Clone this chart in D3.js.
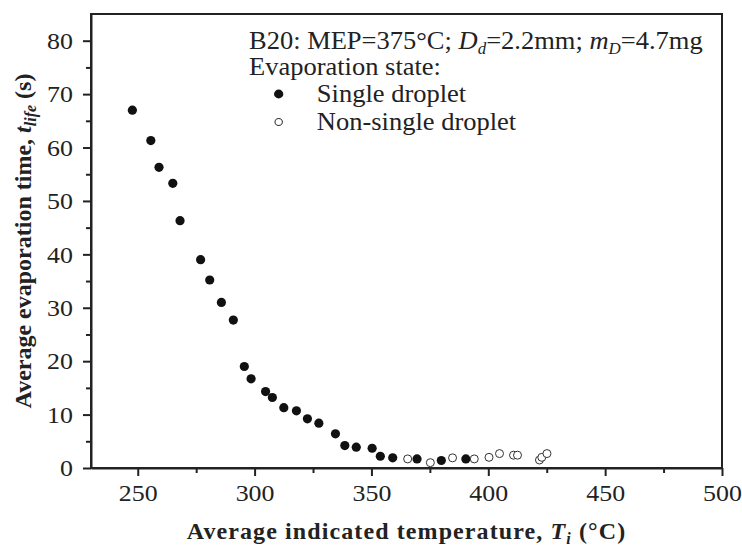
<!DOCTYPE html>
<html>
<head>
<meta charset="utf-8">
<script src="https://cdn.jsdelivr.net/npm/d3@7"></script>
<style>
  body { margin: 0; background: #fff; }
  text { font-family: "Liberation Serif", "Times New Roman", serif; fill: #222; }
</style>
</head>
<body>
<script>
// single droplet evaporation (filled markers)
var singleT = [247.7, 255.6, 259.1, 265.0, 268.1, 276.9, 280.8, 285.8, 290.9, 295.6, 298.5,
  304.7, 307.6, 312.5, 317.9, 322.6, 327.5, 334.6, 338.6, 343.5, 350.3, 353.8, 359.1, 369.5, 379.9, 390.4];
var singleLife = [67.0, 61.3, 56.3, 53.3, 46.3, 39.0, 35.2, 31.0, 27.7, 19.0, 16.7,
  14.3, 13.2, 11.3, 10.7, 9.2, 8.4, 6.4, 4.2, 3.9, 3.7, 2.2, 1.9, 1.7, 1.4, 1.7];
// non-single droplet (open markers)
var multiT = [365.5, 375.2, 384.7, 394.0, 400.3, 404.8, 410.8, 412.5, 421.9, 422.9, 425.1];
var multiLife = [1.7, 1.0, 1.9, 1.7, 2.0, 2.7, 2.4, 2.4, 1.5, 2.0, 2.7];

var xTicks = [250, 300, 350, 400, 450, 500];
var yTicks = [0, 10, 20, 30, 40, 50, 60, 70, 80];
var legendLabels = ["Single droplet", "Non-single droplet"];

var width = 742, height = 546;
var margin = {top: 14, right: 20, bottom: 78, left: 91};
var stretch = 1.08; // the source figure's lettering is a bit wide

var svg = d3.select("body").append("svg")
    .attr("width", width)
    .attr("height", height);

var x = d3.scaleLinear().domain([230, 500]).range([margin.left, width - margin.right]);
var y = d3.scaleLinear().domain([0, 85]).range([height - margin.bottom, margin.top]);

// frame
svg.append("rect")
    .attr("x", x(230)).attr("y", y(85))
    .attr("width", x(500) - x(230)).attr("height", y(0) - y(85))
    .attr("fill", "none").attr("stroke", "#222").attr("stroke-width", 2);

var xMinor = d3.range(275, 500, 50);
var yMinor = d3.range(5, 85, 10);

svg.append("g").attr("transform", `translate(0,${y(0)})`)
    .call(d3.axisBottom(x).tickValues(xTicks).tickSize(8).tickPadding(8).tickSizeOuter(0));
svg.append("g").attr("transform", `translate(0,${y(0)})`)
    .call(d3.axisBottom(x).tickValues(xMinor).tickSize(5).tickFormat("").tickSizeOuter(0))
    .call(g => g.select(".domain").remove());

svg.append("g").attr("transform", `translate(${x(230)},0)`)
    .call(d3.axisLeft(y).tickValues(yTicks).tickSize(8).tickPadding(10).tickSizeOuter(0));
svg.append("g").attr("transform", `translate(${x(230)},0)`)
    .call(d3.axisLeft(y).tickValues(yMinor).tickSize(5).tickFormat("").tickSizeOuter(0))
    .call(g => g.select(".domain").remove());

svg.selectAll(".tick line, .domain").attr("stroke", "#222").attr("stroke-width", 2);
svg.selectAll(".tick text")
    .attr("font-size", 24).attr("fill", "#333")
    .attr("font-family", "Liberation Serif")
    .attr("transform", function() {
      var tx = +d3.select(this).attr("x") || 0;
      return `translate(${tx},0) scale(${stretch},1) translate(${-tx},0)`;
    });

// points
svg.append("g").selectAll("circle")
  .data(singleT.map((t, i) => [t, singleLife[i]]))
  .join("circle")
    .attr("cx", d => x(d[0]))
    .attr("cy", d => y(d[1]))
    .attr("r", 4.6)
    .attr("fill", "#111");

svg.append("g").selectAll("circle")
  .data(multiT.map((t, i) => [t, multiLife[i]]))
  .join("circle")
    .attr("cx", d => x(d[0]))
    .attr("cy", d => y(d[1]))
    .attr("r", 4)
    .attr("fill", "#fff")
    .attr("stroke", "#333")
    .attr("stroke-width", 1);

// legend / annotation
var lx = 249;
var leg = svg.append("g")
    .attr("font-size", 25)
    .attr("transform", `translate(${lx},0) scale(1.06,1)`);
var t1 = leg.append("text").attr("x", 0).attr("y", 49);
t1.append("tspan").text("B20: MEP=375°C; ");
t1.append("tspan").attr("font-style", "italic").text("D");
t1.append("tspan").attr("font-style", "italic").attr("font-size", 16).attr("dy", 5).text("d");
t1.append("tspan").attr("dy", -5).text("=2.2mm; ");
t1.append("tspan").attr("font-style", "italic").text("m");
t1.append("tspan").attr("font-style", "italic").attr("font-size", 16).attr("dy", 5).text("D");
t1.append("tspan").attr("dy", -5).text("=4.7mg");

leg.append("text").attr("x", 0).attr("y", 75).text("Evaporation state:");

var items = leg.selectAll(".item")
  .data(legendLabels)
  .join("g")
    .attr("transform", (d, i) => `translate(0,${102 + i * 28})`);
items.append("circle")
    .attr("cx", 28).attr("cy", -8)
    .attr("r", (d, i) => i === 0 ? 4.4 : 3.5)
    .attr("fill", (d, i) => i === 0 ? "#111" : "#fff")
    .attr("stroke", (d, i) => i === 0 ? "none" : "#333");
items.append("text")
    .attr("x", 64)
    .text(d => d);

// axis titles
var xt = svg.append("text")
    .attr("x", (x(230) + x(500)) / 2).attr("y", 539)
    .attr("text-anchor", "middle")
    .attr("font-size", 24).attr("font-weight", "bold")
    .attr("letter-spacing", 1.1);
xt.append("tspan").text("Average indicated temperature, ");
xt.append("tspan").attr("font-style", "italic").text("T");
xt.append("tspan").attr("font-style", "italic").attr("font-size", 16).attr("dy", 5).text("i");
xt.append("tspan").attr("dy", -5).text(" (°C)");

var yt = svg.append("text")
    .attr("transform", `translate(31,${(y(0) + y(85)) / 2}) rotate(-90)`)
    .attr("text-anchor", "middle")
    .attr("font-size", 24).attr("font-weight", "bold");
yt.append("tspan").text("Average evaporation time, ");
yt.append("tspan").attr("font-style", "italic").text("t");
yt.append("tspan").attr("font-style", "italic").attr("font-size", 16).attr("dy", 5).text("life");
yt.append("tspan").attr("dy", -5).text(" (s)");
</script>
</body>
</html>
